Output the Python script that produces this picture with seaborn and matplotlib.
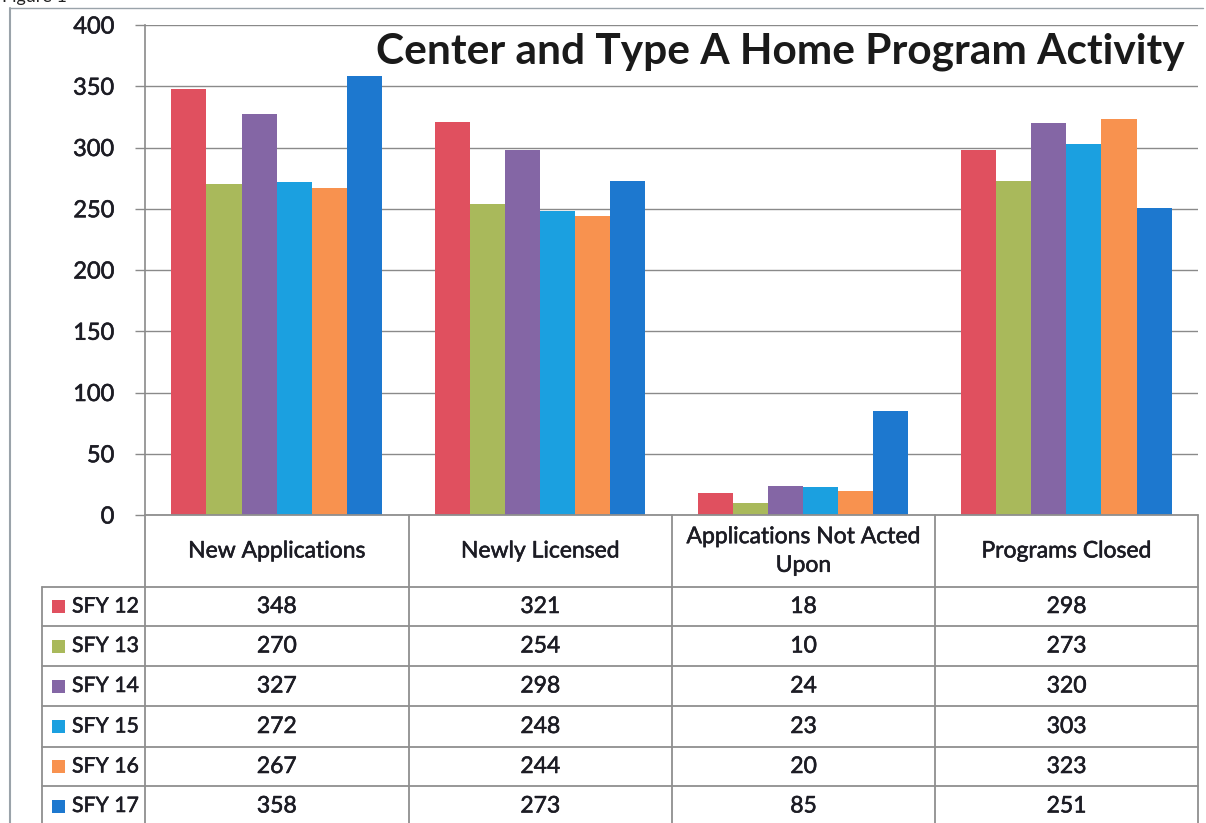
import matplotlib
matplotlib.use("Agg")
import matplotlib.pyplot as plt
import matplotlib.patheffects as pe
import seaborn as sns
import pandas as pd
from matplotlib.lines import Line2D
from matplotlib.patches import Rectangle

categories = ["New Applications", "Newly Licensed", "Applications Not Acted\nUpon", "Programs Closed"]
series = ["SFY 12", "SFY 13", "SFY 14", "SFY 15", "SFY 16", "SFY 17"]
sfy12 = [348, 321, 18, 298]
sfy13 = [270, 254, 10, 273]
sfy14 = [327, 298, 24, 320]
sfy15 = [272, 248, 23, 303]
sfy16 = [267, 244, 20, 323]
sfy17 = [358, 273, 85, 251]
values = [sfy12, sfy13, sfy14, sfy15, sfy16, sfy17]
colors = ["#E0505F", "#A9B95B", "#8466A5", "#1BA0E0", "#F8924F", "#1D78CF"]
yticks = [0, 50, 100, 150, 200, 250, 300, 350, 400]

rows = []
for s, vals in zip(series, values):
    for c, v in zip(categories, vals):
        rows.append({"cat": c, "series": s, "value": v})
df = pd.DataFrame(rows)

sns.set_style("white")
plt.rcParams["font.family"] = ["Lato", "DejaVu Sans"]

W, H = 1206, 823
fig = plt.figure(figsize=(W / 100, H / 100), dpi=100)

def fx(px):
    return px / W

def fy(py):
    return 1 - py / H

TC = "#1c1c24"
FS = 16.5
thick = [pe.withStroke(linewidth=0.4, foreground=TC)]

L, R, T, B = 145, 1198, 25, 515
ax = fig.add_axes([fx(L), fy(B), fx(R - L), (B - T) / H])
sns.barplot(data=df, x="cat", y="value", hue="series", order=categories,
            hue_order=series, palette=colors, width=0.8, ax=ax,
            legend=False, saturation=1, linewidth=0)
ax.set_xlim(-0.5, 3.5)
ax.set_ylim(0, 400)
ax.set_yticks(yticks)
ax.set_yticklabels([str(t) for t in yticks], fontsize=17, color=TC)
for lab in ax.get_yticklabels():
    lab.set_path_effects(thick)
ax.set_xticks([])
ax.set_xlabel("")
ax.set_ylabel("")
ax.yaxis.grid(True, color="#8a8a8a", linewidth=1.0)
ax.set_axisbelow(True)
for sp in ["top", "right", "bottom"]:
    ax.spines[sp].set_visible(False)
ax.spines["left"].set_color("#8a8a8a")
ax.spines["left"].set_linewidth(1.2)
ax.tick_params(axis="y", which="major", length=7, width=1.0, color="#8a8a8a",
               direction="out", pad=15, left=True)

ax.text(0.987, 0.945, "Center and Type A Home Program Activity",
        transform=ax.transAxes, ha="right", va="center",
        fontsize=30.5, fontweight="bold", color="#1a1a1a")

# outer chart frame
fig.add_artist(Line2D([fx(10), fx(10)], [fy(8), 0], color="#9aa3aa", lw=1.5))
fig.add_artist(Line2D([fx(10), fx(1203)], [fy(8), fy(8)], color="#9aa3aa", lw=1.0))
fig.text(fx(2), 1.004, "Figure 1", fontsize=13, va="center", ha="left", color="#222222")

# data table
lc = "#8f8f8f"
col_x = [145, 408.5, 672, 935, 1198]
row_y = [587, 626, 666, 706, 747, 786, 826]
for x in col_x:
    fig.add_artist(Line2D([fx(x), fx(x)], [fy(B), 0], color=lc, lw=1.3))
fig.add_artist(Line2D([fx(42), fx(42)], [fy(587), 0], color=lc, lw=1.3))
fig.add_artist(Line2D([fx(L), fx(R)], [fy(B), fy(B)], color=lc, lw=1.3))
for y in row_y[:-1]:
    fig.add_artist(Line2D([fx(42), fx(R)], [fy(y), fy(y)], color=lc, lw=1.3))

for i, c in enumerate(categories):
    xc = (col_x[i] + col_x[i + 1]) / 2
    fig.text(fx(xc), fy((B + 587) / 2), c, ha="center", va="center",
             fontsize=FS, color=TC, linespacing=1.45, path_effects=thick)

for r, (s, vals, col) in enumerate(zip(series, values, colors)):
    yc = (row_y[r] + row_y[r + 1]) / 2
    fig.add_artist(Rectangle((fx(52), fy(yc + 6.5)), fx(13), 13 / H,
                             facecolor=col, edgecolor="none"))
    fig.text(fx(72), fy(yc), s, ha="left", va="center", fontsize=15.3, color=TC,
             path_effects=thick)
    for i, v in enumerate(vals):
        xc = (col_x[i] + col_x[i + 1]) / 2
        fig.text(fx(xc), fy(yc), str(v), ha="center", va="center",
                 fontsize=FS, color=TC, path_effects=thick)

fig.savefig("out.png", dpi=100)
